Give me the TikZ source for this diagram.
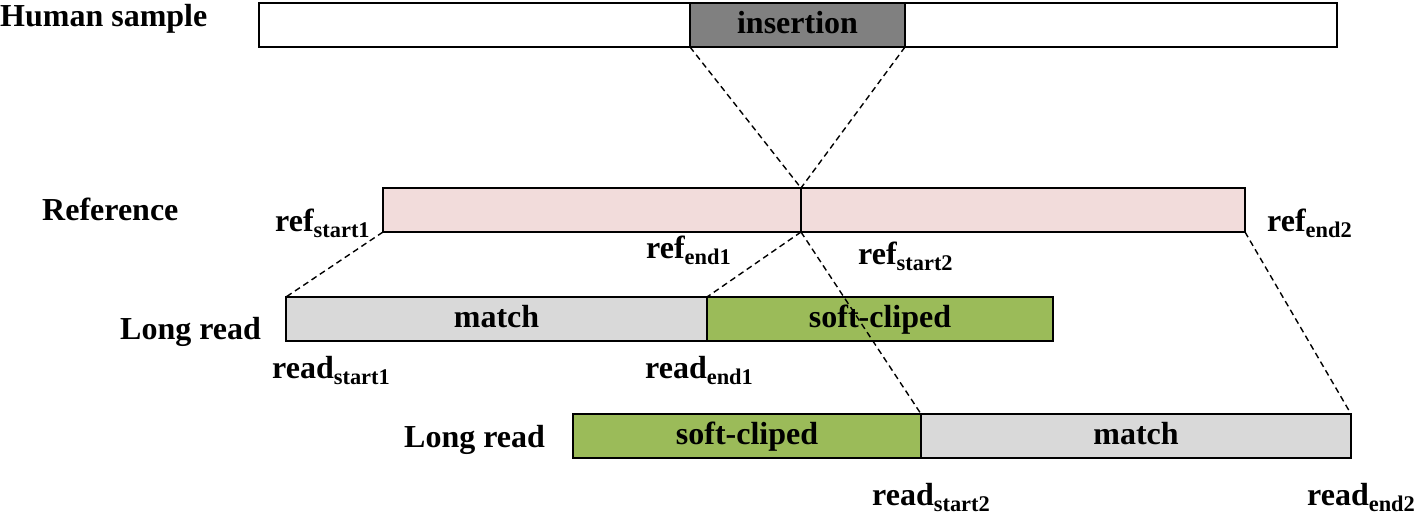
\documentclass[tikz,border=0pt]{standalone}
\usepackage{fontspec}
\setmainfont{Liberation Serif}
\usetikzlibrary{positioning,chains}
\definecolor{insgray}{RGB}{128,128,128}
\definecolor{refpink}{RGB}{242,220,219}
\definecolor{matchgray}{RGB}{217,217,217}
\definecolor{clipgreen}{RGB}{155,187,89}
\tikzset{
	cell/.style={
		rectangle,
		draw,
		line width=2pt,
		outer sep=0pt,
		inner sep=0pt,
		minimum height=44pt,
		text height=22pt,
		text depth=6pt,
		font=\bfseries\fontsize{32}{36}\selectfont
	},
	lbl/.style={inner sep=0pt, anchor=base west, font=\bfseries\fontsize{32}{36}\selectfont},
	link/.style={line width=1.4pt, dash pattern=on 6pt off 4pt}
}

\begin{document}
\begin{tikzpicture}[x=1pt, y=-1pt, node distance=0pt]
	\useasboundingbox (0,0) rectangle (1417,517);
	% human sample with insertion
	\begin{scope}[start chain=hs]
		\node [on chain, cell, anchor=west, minimum width=431pt] (hsl) at (259,25) {};
		\node [on chain, cell, fill=insgray, minimum width=215pt] (ins) {insertion};
		\node [on chain, cell, minimum width=432pt] (hsr) {};
	\end{scope}
	% reference
	\begin{scope}[start chain=ref]
		\node [on chain, cell, fill=refpink, anchor=west, minimum width=418pt] (ref1) at (383,210) {};
		\node [on chain, cell, fill=refpink, minimum width=444pt] (ref2) {};
	\end{scope}
	% first long read
	\begin{scope}[start chain=rda]
		\node [on chain, cell, fill=matchgray, anchor=west, minimum width=421pt] (rd1m) at (286,319) {match};
		\node [on chain, cell, fill=clipgreen, minimum width=346pt] (rd1c) {soft-cliped};
	\end{scope}
	% second long read
	\begin{scope}[start chain=rdb]
		\node [on chain, cell, fill=clipgreen, anchor=west, minimum width=348pt] (rd2c) at (573,436) {soft-cliped};
		\node [on chain, cell, fill=matchgray, minimum width=430pt] (rd2m) {match};
	\end{scope}

	% labels
	\node [lbl] (hslbl) at (0,26) {Human sample};
	\node [lbl] (reflbl) at (42,220) {Reference};
	\node [lbl] (rdalbl) at (120,339) {Long read};
	\node [lbl] (rdblbl) at (404,447) {Long read};
	\node [lbl] (rs1) at (275,231) {ref\textsubscript{start1}};
	\node [lbl] (re1) at (646,258) {ref\textsubscript{end1}};
	\node [lbl] (rs2) at (858,264) {ref\textsubscript{start2}};
	\node [lbl] (re2) at (1267,231) {ref\textsubscript{end2}};
	\node [lbl] (ds1) at (272,378) {read\textsubscript{start1}};
	\node [lbl] (de1) at (645,378) {read\textsubscript{end1}};
	\node [lbl] (ds2) at (872,505) {read\textsubscript{start2}};
	\node [lbl] (de2) at (1307,505) {read\textsubscript{end2}};

	% dashed mappings
	\draw [link] (ins.south west) -- (ref1.north east);
	\draw [link] (ins.south east) -- (ref1.north east);
	\draw [link] (ref1.south west) -- (rd1m.north west);
	\draw [link] (ref1.south east) -- (rd1c.north west);
	\draw [link] (ref1.south east) -- (rd2c.north east);
	\draw [link] (ref2.south east) -- (rd2m.north east);
\end{tikzpicture}
\end{document}
